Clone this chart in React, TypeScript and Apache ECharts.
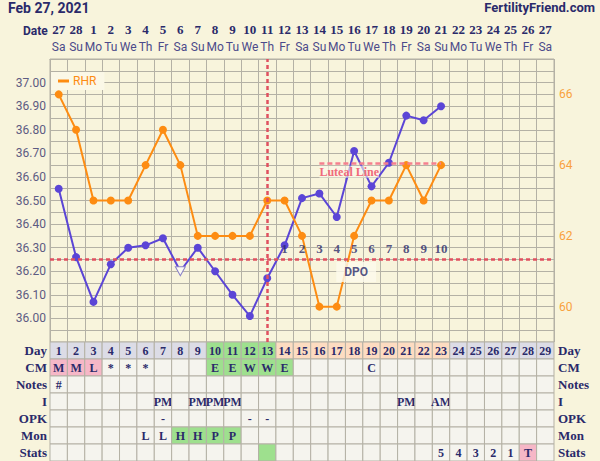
import React, { useEffect, useRef } from 'react';
import * as echarts from 'echarts';

const dates = ['27','28','1','2','3','4','5','6','7','8','9','10','11','12','13','14','15','16','17','18','19','20','21','22','23','24','25','26','27'];
const weekdays = ['Sa','Su','Mo','Tu','We','Th','Fr','Sa','Su','Mo','Tu','We','Th','Fr','Sa','Su','Mo','Tu','We','Th','Fr','Sa','Su','Mo','Tu','We','Th','Fr','Sa'];
const cycleDays = ['1','2','3','4','5','6','7','8','9','10','11','12','13','14','15','16','17','18','19','20','21','22','23','24','25','26','27','28','29'];

const bbt = [36.55,36.26,36.07,36.23,36.30,36.31,36.34,36.20,36.30,36.20,36.10,36.01,36.17,36.31,36.51,36.53,36.43,36.71,36.56,36.66,36.86,36.84,36.90];
const rhr = [66,65,63,63,63,64,65,64,62,62,62,62,63,63,62,60,60,62,63,63,64,63,64];
const excludedDay = '8';
const coverline = 36.25;
const ovulationDay = '13';
const lutealLevel = 36.66;
const lutealStart = '16';
const lutealEnd = '23';
const dpoDays = ['14','15','16','17','18','19','20','21','22','23'];
const dpoLabels = ['1','2','3','4','5','6','7','8','9','10'];
const dpoLevel = 36.295;
const dpoTagDay = '18';
const dpoTagLevel = 36.197;

const rowLabels = ['Day','CM','Notes','I','OPK','Mon','Stats'];
const cmRow = ['M','M','L','*','*','*','','','','E','E','W','W','E','','','','','C','','','','','','','','','',''];
const notesRow = ['#','','','','','','','','','','','','','','','','','','','','','','','','','','','',''];
const iRow = ['','','','','','','PM','','PM','PM','PM','','','','','','','','','','PM','','AM','','','','','',''];
const opkRow = ['','','','','','','-','','','','','-','-','','','','','','','','','','','','','','','',''];
const monRow = ['','','','','','L','L','H','H','P','P','','','','','','','','','','','','','','','','','',''];
const statsRow = ['','','','','','','','','','','','','','','','','','','','','','','5','4','3','2','1','T',''];

// colour keys per cell: g = grey, G = green, o = peach, p = pink, '' = plain
const dayFill = ['g','g','g','g','g','g','g','g','g','G','G','G','G','o','o','o','o','o','o','o','o','o','o','g','g','g','g','g','g'];
const cmFill = ['p','p','p','','','','','','','G','G','G','G','G','','','','','','','','','','','','','','',''];
const monFill = ['','','','','','','','G','G','G','G','','','','','','','','','','','','','','','','','',''];
const statsFill = ['','','','','','','','','','','','','G','','','','','','','','','','','','','','','p',''];

const fillColors: Record<string, string> = {
  '': '#f5f4ee',
  g: '#dcdce6',
  G: '#9ee08e',
  o: '#fddcc1',
  p: '#f6b7c7',
};

const NAVY = '#2a2a6a';
const BLUE = '#5b45d6';
const ORANGE = '#fd8c12';
const GRIDC = '#b4b1a5';
const BG = '#f8f4dc';

export default function App() {
  const ref = useRef<HTMLDivElement>(null);
  useEffect(() => {
    if (!ref.current) return;
    const chart = echarts.init(ref.current, null, { renderer: 'svg' });

    const textRows = [cycleDays, cmRow, notesRow, iRow, opkRow, monRow, statsRow];
    const fillRows = [dayFill, cmFill, null, null, null, monFill, statsFill];
    const tableData: any[] = [];
    const tableTexts: string[] = [];
    const tableFills: string[] = [];
    textRows.forEach((row, r) => {
      row.forEach((t, c) => {
        tableData.push([c, r]);
        tableTexts.push(t);
        const fr = fillRows[r];
        tableFills.push(fillColors[fr ? fr[c] : '']);
      });
    });

    const bbtData = bbt.map((v, i) =>
      cycleDays[i] === excludedDay
        ? {
            value: v,
            symbol: 'path://M0,0 L10,0 L5,9 Z',
            symbolSize: [10, 9],
            itemStyle: { color: '#fbfaf2', borderColor: '#8a80c8', borderWidth: 1 },
          }
        : v
    );

    const option: any = {
      animation: false,
      backgroundColor: BG,
      grid: [
        { left: 50, top: 59, width: 504, height: 283, show: true, backgroundColor: BG, borderColor: GRIDC, borderWidth: 1 },
        { left: 50, top: 342, width: 504, height: 121 },
      ],
      legend: {
        data: [{ name: 'RHR', icon: 'rect' }],
        left: 51,
        top: 72,
        itemWidth: 11,
        itemHeight: 3,
        itemGap: 4,
        padding: [3, 8, 3, 7],
        backgroundColor: '#fbf8e7',
        textStyle: { color: ORANGE, fontSize: 12, fontFamily: 'Roboto', padding: [0, 0, 0, -1] },
      },
      xAxis: [
        {
          type: 'category',
          gridIndex: 0,
          position: 'top',
          data: cycleDays,
          axisTick: { show: false },
          axisLine: { show: true, lineStyle: { color: GRIDC } },
          splitLine: { show: true, interval: 0, lineStyle: { color: GRIDC, width: 1 } },
          axisLabel: {
            interval: 0,
            margin: 4,
            formatter: (_v: string, i: number) => `{d|${dates[i]}}\n{w|${weekdays[i]}}`,
            rich: {
              d: { fontFamily: 'Liberation Serif', fontWeight: 'bold', fontSize: 13, color: NAVY, lineHeight: 17 },
              w: { fontFamily: 'Roboto', fontSize: 12, color: '#4b4a8a', lineHeight: 17 },
            },
          },
        },
        {
          type: 'category',
          gridIndex: 1,
          data: cycleDays,
          show: false,
        },
      ],
      yAxis: [
        {
          type: 'value',
          gridIndex: 0,
          min: 35.9,
          max: 37.1,
          interval: 0.05,
          axisLine: { show: false },
          axisTick: { show: false },
          splitLine: { show: true, lineStyle: { color: GRIDC, width: 1 } },
          axisLabel: {
            margin: 4,
            color: '#5d5b82',
            fontSize: 12,
            fontFamily: 'Roboto',
            showMinLabel: false,
            showMaxLabel: false,
            formatter: (v: number) => (Math.round(v * 100) % 10 === 0 ? v.toFixed(2) : ''),
          },
        },
        {
          type: 'value',
          gridIndex: 0,
          position: 'right',
          min: 59,
          max: 67,
          interval: 1,
          axisLine: { show: false },
          axisTick: { show: false },
          splitLine: { show: false },
          axisLabel: {
            margin: 5,
            color: '#f9a23e',
            fontSize: 12,
            fontFamily: 'Roboto',
            formatter: (v: number) => (v % 2 === 0 && v > 59 && v < 67 ? String(v) : ''),
          },
        },
        {
          type: 'category',
          gridIndex: 1,
          inverse: true,
          data: rowLabels,
          axisLine: { show: false },
          axisTick: { show: false },
          axisLabel: { margin: 3, color: NAVY, fontSize: 13, fontWeight: 'bold', fontFamily: 'Liberation Serif' },
        },
        {
          type: 'category',
          gridIndex: 1,
          position: 'right',
          inverse: true,
          data: rowLabels,
          axisLine: { show: false },
          axisTick: { show: false },
          axisLabel: { margin: 4, color: NAVY, fontSize: 13, fontWeight: 'bold', fontFamily: 'Liberation Serif' },
        },
      ],
      series: [
        {
          name: 'BBT',
          type: 'line',
          xAxisIndex: 0,
          yAxisIndex: 0,
          data: bbtData,
          symbol: 'circle',
          symbolSize: 8,
          itemStyle: { color: BLUE },
          lineStyle: { color: BLUE, width: 2 },
          z: 3,
          markLine: {
            silent: true,
            symbol: 'none',
            label: { show: false },
            lineStyle: { color: '#e0505f', type: [4, 3], width: 2.5 },
            data: [
              { yAxis: coverline },
              { xAxis: ovulationDay },
              [
                {
                  coord: [lutealStart, lutealLevel],
                  lineStyle: { color: '#f5808f', type: [5, 3], width: 2.5 },
                  label: {
                    show: true,
                    formatter: 'Luteal Line',
                    position: 'insideStartBottom',
                    distance: [0, 3],
                    color: '#f06a7b',
                    fontSize: 12,
                    fontFamily: 'Liberation Serif',
                    fontWeight: 'bold',
                    backgroundColor: 'rgba(252,249,235,0.6)',
                  },
                },
                { coord: [lutealEnd, lutealLevel] },
              ],
            ],
          },
        },
        {
          name: 'RHR',
          type: 'line',
          xAxisIndex: 0,
          yAxisIndex: 1,
          data: rhr,
          symbol: 'circle',
          symbolSize: 8,
          itemStyle: { color: ORANGE },
          lineStyle: { color: ORANGE, width: 2 },
          z: 4,
        },
        {
          name: 'DPO',
          type: 'scatter',
          xAxisIndex: 0,
          yAxisIndex: 0,
          symbolSize: 0,
          z: 6,
          data: dpoDays.map((d) => [d, dpoLevel]),
          label: {
            show: true,
            position: 'inside',
            formatter: (p: any) => dpoLabels[p.dataIndex],
            color: NAVY,
            fontSize: 13,
            fontWeight: 'bold',
            fontFamily: 'Liberation Serif',
          },
        },
        {
          name: 'DPOTag',
          type: 'scatter',
          xAxisIndex: 0,
          yAxisIndex: 0,
          symbolSize: 0,
          z: 7,
          data: [[dpoTagDay, dpoTagLevel]],
          label: {
            show: true,
            position: 'inside',
            offset: [2, 0],
            formatter: 'DPO',
            color: NAVY,
            fontSize: 12,
            fontWeight: 'bold',
            fontFamily: 'Roboto',
            backgroundColor: '#fcfaec',
            padding: [4, 8],
          },
        },
        {
          name: 'Table',
          type: 'custom',
          xAxisIndex: 1,
          yAxisIndex: 2,
          data: tableData,
          renderItem: (params: any, api: any) => {
            const c = api.coord([api.value(0), api.value(1)]);
            const s = api.size([1, 1]);
            const i = params.dataIndex;
            return {
              type: 'group',
              children: [
                {
                  type: 'rect',
                  shape: { x: c[0] - s[0] / 2, y: c[1] - s[1] / 2, width: s[0], height: s[1] },
                  style: { fill: tableFills[i], stroke: GRIDC, lineWidth: 1 },
                },
                {
                  type: 'text',
                  style: {
                    text: tableTexts[i],
                    x: c[0],
                    y: c[1],
                    align: 'center',
                    verticalAlign: 'middle',
                    font: 'bold 12px "Liberation Serif"',
                    fill: NAVY,
                  },
                },
              ],
            };
          },
        },
      ],
      graphic: [
        {
          type: 'text',
          left: 8,
          top: 1,
          style: { text: 'Feb 27, 2021', font: 'bold 14px Roboto', fill: NAVY },
        },
        {
          type: 'text',
          right: 5,
          top: 1,
          style: { text: 'FertilityFriend.com', font: 'bold 13px Roboto', fill: NAVY },
        },
        {
          type: 'text',
          left: 23,
          top: 25,
          style: { text: 'Date', font: 'bold 12px Roboto', fill: NAVY },
        },
      ],
    };
    chart.setOption(option);
    return () => chart.dispose();
  }, []);
  return (
    <div
      ref={ref}
      style={{ position: 'fixed', left: 0, top: 0, width: 600, height: 461 }}
    />
  );
}
